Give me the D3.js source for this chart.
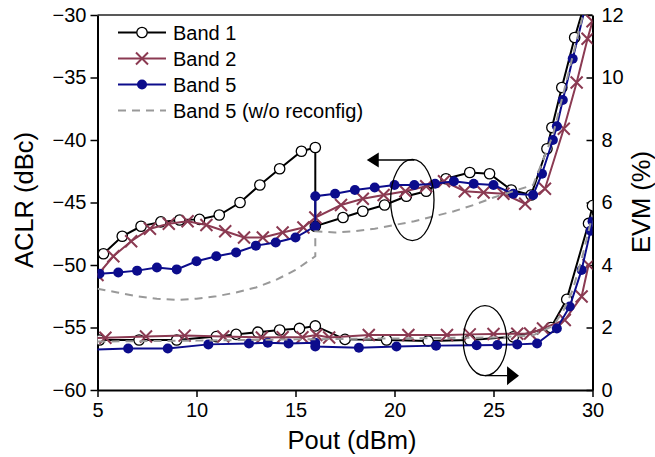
<!DOCTYPE html>
<html>
<head>
<meta charset="utf-8">
<script src="https://cdn.jsdelivr.net/npm/d3@7"></script>
<style>
  body { margin: 0; background: #fff; }
  text { font-family: "Liberation Sans", Arial, sans-serif; }
</style>
</head>
<body>
<svg id="chart" width="655" height="457"></svg>
<script>
// x = Pout (dBm), y = ACLR (dBc)
const band1Aclr = [[5.3,-49.1],[6.25,-47.7],[7.2,-46.9],[8.2,-46.55],[9.15,-46.4],[10.15,-46.35],[11.15,-46.0],[12.2,-45.0],[13.2,-43.6],[14.2,-42.3],[15.3,-40.9],[16.0,-40.6],
  [16.0,-46.9],[17.4,-46.2],[18.4,-45.7],[19.5,-45.2],[20.6,-44.5],[21.6,-44.1],[22.6,-43.1],[23.8,-42.6],[24.8,-42.7],[25.9,-44.0],[26.9,-44.4],[27.7,-40.7],[27.95,-39.0],[28.45,-35.8],[29.1,-31.8],[30,-27]];
const band2Aclr = [[5.0,-50.8],[5.8,-49.3],[6.7,-48.1],[7.65,-47.1],[8.6,-46.7],[9.55,-46.5],[10.5,-46.8],[11.45,-47.3],[12.4,-47.8],[13.35,-47.8],[14.35,-47.4],[15.4,-47.0],[16.0,-46.2],
  [17.3,-45.2],[18.4,-44.7],[19.45,-44.4],[20.55,-44.1],[21.6,-43.7],[22.5,-43.3],[23.55,-44.1],[24.5,-44.2],[25.5,-44.3],[26.6,-45.1],[27.6,-43.9],[28.55,-39.1],[29.2,-35.4],[29.75,-31.9],[30,-30.5]];
const band5Aclr = [[5.1,-50.7],[6.05,-50.6],[7.0,-50.45],[8.0,-50.2],[9.0,-50.35],[10.0,-49.7],[11.0,-49.3],[12.0,-49.0],[13.0,-48.45],[14.0,-48.2],[15.0,-47.8],[16.0,-46.9],
  [16.0,-44.5],[17.0,-44.3],[18.0,-44.0],[19.0,-43.8],[20.0,-43.6],[21.0,-43.6],[22.05,-43.5],[23.0,-43.3],[24.0,-43.5],[25.0,-43.6],[26.0,-44.3],[27.0,-44.4],[27.45,-42.7],[28.0,-40.0],[28.2,-38.9],[28.5,-36.8],[29.0,-33.5],[30,-27]];
const band5NoReconfAclr = [[5,-51.9],[6,-52.2],[7,-52.5],[8,-52.7],[9,-52.8],[10,-52.7],[11,-52.5],[12,-52.2],[13,-51.8],[14,-51.2],[15,-50.4],[16,-49.3],
  [16,-47.3],[17,-47.4],[18,-47.3],[19,-47.1],[20,-46.8],[21,-46.5],[22,-46.1],[23,-45.7],[24,-45.2],[25,-44.6],[26,-44.1],[27,-43.6],[28,-39.6],[29,-33.3],[29.6,-29.5]];

// x = Pout (dBm), y = EVM (%)
const band1Evm = [[5.1,1.6],[7.1,1.6],[9.0,1.6],[11.0,1.71],[12.0,1.78],[13.1,1.85],[14.2,1.92],[15.2,1.97],[16.0,2.05],
  [17.5,1.62],[19.6,1.6],[21.7,1.57],[23.8,1.6],[26.0,1.7],[27.9,2.0],[28.7,2.9],[29.8,5.33],[30,5.9]];
const band2Evm = [[4.6,1.66],[5.4,1.67],[7.45,1.71],[9.4,1.74],[11.35,1.71],[13.3,1.68],[14.35,1.69],[15.35,1.69],[16.05,1.76],[16.7,1.68],
  [18.7,1.76],[20.7,1.76],[22.65,1.76],[23.8,1.78],[25.0,1.79],[26.2,1.8],[26.85,1.81],[27.5,1.97],[28.6,2.24],[29.45,2.99],[29.8,4.0]];
const band5Evm = [[4.6,1.29],[6.55,1.33],[8.55,1.33],[10.6,1.46],[12.65,1.49],[13.6,1.51],[14.65,1.49],[16.0,1.51],[16.0,1.39],
  [18.2,1.35],[20.1,1.39],[22.1,1.42],[24.15,1.43],[25.2,1.44],[26.2,1.46],[27.2,1.49],[28.2,1.97],[28.85,2.67],[29.45,3.84],[29.9,5.1],[30,5.4]];
const band5NoReconfEvm = [[5,1.55],[10,1.58],[15,1.62],[20,1.65],[25,1.68],[27,1.75],[28,2.05],[28.5,2.5],[29,3.2],[29.5,4.3],[30,5.6]];

const xTicks = [5, 10, 15, 20, 25, 30];
const aclrTicks = [-60, -55, -50, -45, -40, -35, -30];
const evmTicks = [0, 2, 4, 6, 8, 10, 12];
const legendLabels = ["Band 1", "Band 2", "Band 5", "Band 5 (w/o reconfig)"];

const black = "#000", maroon = "#8b3a52", navy = "#0c0c8c", grey = "#999";

const svg = d3.select("#chart");
const plotL = 97.5, plotR = 592.5, plotT = 15, plotB = 390;

const x = d3.scaleLinear().domain([5, 30]).range([plotL, plotR]);
const yA = d3.scaleLinear().domain([-60, -30]).range([plotB, plotT]);
const yE = d3.scaleLinear().domain([0, 12]).range([plotB, plotT]);

svg.append("defs").append("clipPath").attr("id", "plot")
  .append("rect").attr("x", plotL).attr("y", plotT).attr("width", plotR - plotL).attr("height", plotB - plotT);

// frame top line
svg.append("line").attr("x1", plotL).attr("x2", plotR).attr("y1", plotT).attr("y2", plotT)
  .attr("stroke", "#222").attr("stroke-width", 1.5);

// axes
const styleAxis = g => {
  g.select(".domain").attr("stroke", "#000").attr("stroke-width", 2);
  g.selectAll(".tick line").attr("stroke", "#000").attr("stroke-width", 1.5);
  g.selectAll(".tick text").attr("font-size", 20).attr("fill", "#000")
    .attr("font-family", "'Liberation Sans', Arial, sans-serif");
};
svg.append("g").attr("transform", "translate(0," + plotB + ")")
  .call(d3.axisBottom(x).tickValues(xTicks).tickSizeInner(7).tickSizeOuter(0).tickPadding(6))
  .call(styleAxis);
svg.append("g").attr("transform", "translate(" + plotL + ",0)")
  .call(d3.axisLeft(yA).tickValues(aclrTicks).tickSizeInner(7).tickSizeOuter(0).tickPadding(4))
  .call(styleAxis);
svg.append("g").attr("transform", "translate(" + plotR + ",0)")
  .call(d3.axisRight(yE).tickValues(evmTicks).tickSizeInner(-6).tickSizeOuter(0).tickPadding(9))
  .call(styleAxis);

// axis titles
svg.append("text").attr("x", 352).attr("y", 449).attr("text-anchor", "middle")
  .attr("font-size", 25.5).text("Pout (dBm)");
svg.append("text").attr("transform", "translate(33,200) rotate(-90)").attr("text-anchor", "middle")
  .attr("font-size", 25.5).text("ACLR (dBc)");
svg.append("text").attr("transform", "translate(650,202) rotate(-90)").attr("text-anchor", "middle")
  .attr("font-size", 25.5).text("EVM (%)");

const plot = svg.append("g").attr("clip-path", "url(#plot)");

function drawSeries(data, yScale, color, marker, dashed) {
  const line = d3.line().x(d => x(d[0])).y(d => yScale(d[1]));
  plot.append("path").datum(data)
    .attr("d", line)
    .attr("fill", "none")
    .attr("stroke", color)
    .attr("stroke-width", 2)
    .attr("stroke-dasharray", dashed ? "8,6" : null);
  if (marker) {
    const g = plot.append("g");
    data.forEach(d => drawMarker(g, x(d[0]), yScale(d[1]), marker, color));
  }
}

function drawMarker(g, cx, cy, marker, color) {
  if (marker === "circle") {
    g.append("circle").attr("cx", cx).attr("cy", cy).attr("r", 5.2)
      .attr("fill", "#fff").attr("stroke", color).attr("stroke-width", 1.3);
  } else if (marker === "dot") {
    g.append("circle").attr("cx", cx).attr("cy", cy).attr("r", 5).attr("fill", color);
  } else if (marker === "x") {
    const s = 6;
    g.append("path")
      .attr("d", `M${cx - s},${cy - s}L${cx + s},${cy + s}M${cx - s},${cy + s}L${cx + s},${cy - s}`)
      .attr("stroke", color).attr("stroke-width", 2).attr("fill", "none");
  }
}

drawSeries(band1Aclr, yA, black, "circle");
drawSeries(band2Aclr, yA, maroon, "x");
drawSeries(band5Aclr, yA, navy, "dot");
drawSeries(band5NoReconfAclr, yA, grey, null, true);
drawSeries(band1Evm, yE, black, "circle");
drawSeries(band2Evm, yE, maroon, "x");
drawSeries(band5Evm, yE, navy, "dot");
drawSeries(band5NoReconfEvm, yE, grey, null, true);

// annotations: ellipses with arrows pointing to their axis
const ann = svg.append("g").attr("fill", "none").attr("stroke", "#000").attr("stroke-width", 1.3);
// ACLR group -> left axis
ann.append("ellipse").attr("cx", x(20.9)).attr("cy", yA(-44.8)).attr("rx", 21.7).attr("ry", 40.7);
ann.append("line").attr("x1", x(20.9) + 2).attr("x2", x(19.15)).attr("y1", yA(-44.8) - 40).attr("y2", yA(-44.8) - 40);
svg.append("path").attr("fill", "#000")
  .attr("d", `M${x(18.6)},${yA(-44.8) - 40}l12,-7.5v15z`);
// EVM group -> right axis
ann.append("ellipse").attr("cx", x(24.57)).attr("cy", yE(1.58)).attr("rx", 21.7).attr("ry", 35);
ann.append("line").attr("x1", x(24.57)).attr("x2", x(25.7)).attr("y1", yE(1.58) + 35).attr("y2", yE(1.58) + 35);
svg.append("path").attr("fill", "#000")
  .attr("d", `M${x(25.28) + 20},${yE(1.58) + 35}l-12,-9.5v19z`);

// legend
const legend = svg.append("g");
const legendSpec = [[black, "circle", false], [maroon, "x", false], [navy, "dot", false], [grey, null, true]];
legendLabels.forEach((label, i) => {
  const ly = 32.5 + i * 26;
  const [color, marker, dashed] = legendSpec[i];
  legend.append("line").attr("x1", 118).attr("x2", 166).attr("y1", ly).attr("y2", ly)
    .attr("stroke", color).attr("stroke-width", 2).attr("stroke-dasharray", dashed ? "8,6" : null);
  if (marker) drawMarker(legend, 142, ly, marker, color);
  legend.append("text").attr("x", 173).attr("y", ly).attr("dy", "0.35em")
    .attr("font-size", 20).text(label);
});
</script>
</body>
</html>
